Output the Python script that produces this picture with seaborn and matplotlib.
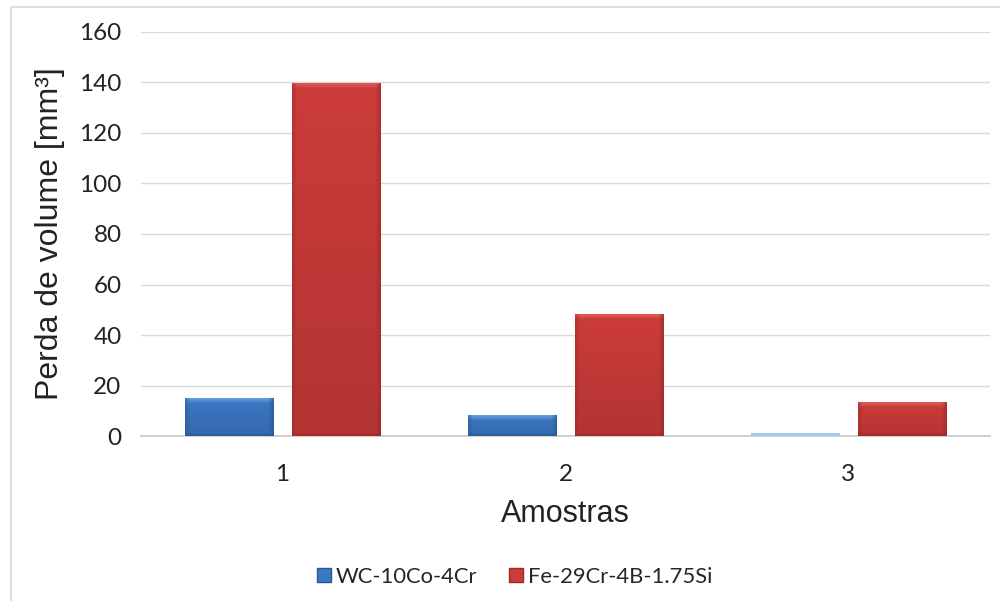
import numpy as np
import pandas as pd
import matplotlib
matplotlib.use("Agg")
import matplotlib.pyplot as plt
from matplotlib.patches import Rectangle
from matplotlib.lines import Line2D
import seaborn as sns

# Volume loss per sample, for each coating
amostras = ["1", "2", "3"]
wc_10co_4cr = [15.0, 8.3, 0.8]
fe_29cr_4b = [139.5, 48.3, 13.1]
series_names = ["WC-10Co-4Cr", "Fe-29Cr-4B-1.75Si"]
y_ticks = [0, 20, 40, 60, 80, 100, 120, 140, 160]

df = pd.DataFrame({
    "Amostras": amostras * 2,
    "Perda": wc_10co_4cr + fe_29cr_4b,
    "Liga": [series_names[0]] * 3 + [series_names[1]] * 3,
})

sns.set_theme(style="white")
plt.rcParams["font.family"] = ["Lato", "DejaVu Sans"]

base_colors = {"WC-10Co-4Cr": "#3b78c4", "Fe-29Cr-4B-1.75Si": "#cc3c3a"}
light_colors = {"WC-10Co-4Cr": "#6aa6e6", "Fe-29Cr-4B-1.75Si": "#e8605c"}
dark_colors = {"WC-10Co-4Cr": "#265892", "Fe-29Cr-4B-1.75Si": "#9a2a28"}

fig = plt.figure(figsize=(10.0, 6.01), dpi=100)
ax = fig.add_axes([0.141, 0.2745, 0.849, 0.6723])

sns.barplot(data=df, x="Amostras", y="Perda", hue="Liga", order=amostras,
            hue_order=series_names, palette=base_colors, width=0.756, gap=0.177,
            edgecolor="none", legend=False, ax=ax, zorder=3)

ax.set_xlim(-0.5, 2.5)
ax.set_ylim(0, 160)
ax.set_yticks(y_ticks)


def hex_rgb(h):
    h = h.lstrip("#")
    return np.array([int(h[i:i + 2], 16) / 255 for i in (0, 2, 4)])


# Bevelled shading on each bar: lighter top rim, darker sides
n_per = len(amostras)
for i, patch in enumerate(ax.patches[: 2 * n_per]):
    name = series_names[i // n_per]
    base = hex_rgb(base_colors[name])
    light = hex_rgb(light_colors[name])
    dark = hex_rgb(dark_colors[name])
    x0, y0 = patch.get_x(), patch.get_y()
    w, h = patch.get_width(), patch.get_height()
    if h <= 0:
        continue
    p0 = ax.transData.transform((x0, y0))
    p1 = ax.transData.transform((x0 + w, y0 + h))
    pw = max(int(abs(p1[0] - p0[0])), 2)
    ph = max(int(abs(p1[1] - p0[1])), 2)
    img = np.tile(base, (ph, pw, 1))
    t = np.linspace(1, 0, ph)[:, None, None]
    img = np.clip(img * (0.88 + 0.12 * t), 0, 1)
    bev = 5
    for k in range(min(bev, ph)):
        a = 1 - k / bev
        img[k, :, :] = img[k, :, :] * (1 - 0.8 * a) + light * 0.8 * a
    for k in range(min(bev, pw // 2)):
        a = 1 - k / bev
        img[:, k, :] = img[:, k, :] * (1 - 0.5 * a) + dark * 0.5 * a
        img[:, pw - 1 - k, :] = img[:, pw - 1 - k, :] * (1 - 0.7 * a) + dark * 0.7 * a
    for k in range(min(3, ph)):
        a = 1 - k / 3
        img[ph - 1 - k, :, :] = img[ph - 1 - k, :, :] * (1 - 0.6 * a) + dark * 0.6 * a
    if ph <= 3:
        img[:, :, :] = light * 0.6 + np.array([1, 1, 1]) * 0.4
    ax.imshow(img, extent=(x0, x0 + w, y0, y0 + h), aspect="auto",
              interpolation="bilinear", zorder=4)

ax.set_xlim(-0.5, 2.5)
ax.set_ylim(0, 160)

ax.grid(axis="y", color="#d9d9d9", linewidth=1.0, zorder=0)
ax.grid(axis="x", visible=False)
for side in ["top", "right", "left"]:
    ax.spines[side].set_visible(False)
ax.spines["bottom"].set_color("#c8c8c8")
ax.spines["bottom"].set_linewidth(1.2)
ax.tick_params(axis="both", length=0, labelsize=17.5, colors="#222222")
ax.tick_params(axis="x", pad=20)
ax.tick_params(axis="y", pad=14)

ax.set_xlabel("Amostras", fontsize=22, color="#222222", labelpad=10,
              family=["Liberation Sans", "DejaVu Sans"])
ax.set_ylabel("Perda de volume [mm³]", fontsize=23, color="#222222", labelpad=10,
              family=["Liberation Sans", "DejaVu Sans"])

handles = [Line2D([0], [0], marker="s", linestyle="none", markersize=10.5,
                  markerfacecolor=base_colors[n], markeredgecolor=dark_colors[n])
           for n in series_names]
fig.legend(handles, series_names, loc="center", bbox_to_anchor=(0.513, 0.04),
           ncol=2, frameon=False, fontsize=15.8, handletextpad=0.1,
           columnspacing=1.3, handlelength=0.9)

# chart frame
fig.patches.append(Rectangle((0.0105, -0.05), 1.1, 1.05 - 7 / 601,
                             transform=fig.transFigure, fill=False,
                             edgecolor="#d9d9d9", linewidth=1.2))

fig.savefig("out.png", dpi=100)
